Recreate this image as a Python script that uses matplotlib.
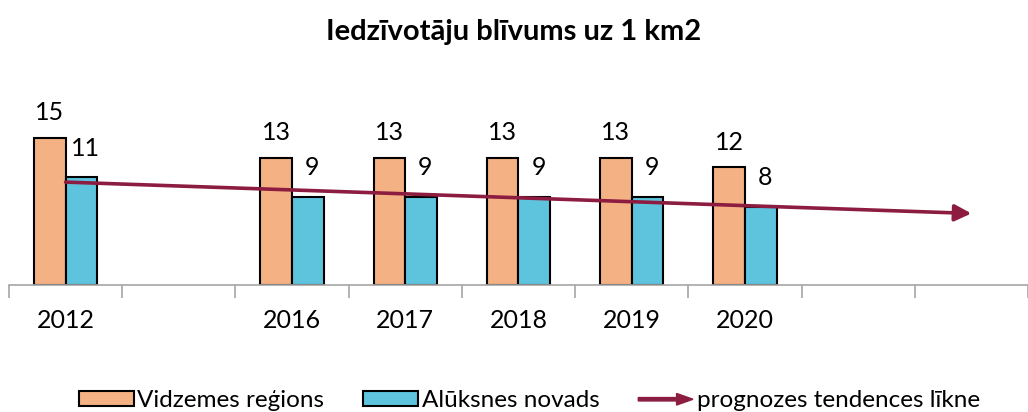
import numpy as np
import matplotlib
matplotlib.use("Agg")
import matplotlib.pyplot as plt
import matplotlib.patches as mpatches
from matplotlib.legend_handler import HandlerPatch

plt.rcParams['font.family'] = ['Lato', 'DejaVu Sans']

# gadi (tukšās vietas atstātas kā kategorijas bez datiem)
years = ["2012", "", "2016", "2017", "2018", "2019", "2020", "", ""]
vidzeme = [15, None, 13, 13, 13, 13, 12, None, None]
aluksne = [11, None, 9, 9, 9, 9, 8, None, None]

c_orange = "#F4B183"
c_blue = "#5EC4DD"
c_trend = "#8C1D40"

fig = plt.figure(figsize=(10.28, 4.12), dpi=100)
ax = fig.add_axes([9 / 1028, 127 / 412, 1019 / 1028, 196 / 412])

x = np.arange(len(years))
w = 0.28
for i, (v, a) in enumerate(zip(vidzeme, aluksne)):
    if v is None:
        continue
    ax.bar(i - w / 2, v, w, color=c_orange, edgecolor="black", linewidth=1.5, zorder=2)
    ax.bar(i + w / 2, a, w, color=c_blue, edgecolor="black", linewidth=1.5, zorder=2)
    ax.annotate(str(v), (i - w / 2, v), xytext=(0, 18), textcoords="offset points",
                ha="center", va="center", fontsize=18)
    ax.annotate(str(a), (i + w / 2, a), xytext=(3, 21), textcoords="offset points",
                ha="center", va="center", fontsize=18)

# lineārā tendence pēc Alūksnes novada datiem, prognoze līdz pēdējai kategorijai
xs = np.array([i for i, a in enumerate(aluksne) if a is not None])
ys = np.array([a for a in aluksne if a is not None])
k, b = np.polyfit(xs, ys, 1)
x0, x1 = 0, 8
ax.annotate("", xy=(x1, k * x1 + b), xytext=(x0, k * x0 + b),
            arrowprops=dict(arrowstyle="-|>,head_length=1.0,head_width=0.5",
                            color=c_trend, lw=2.6, shrinkA=0, shrinkB=0),
            zorder=3)

ax.set_xlim(-0.5, -0.5 + 1019 / 114)
ax.set_ylim(0, 20)
ax.set_xticks(np.arange(len(years) + 1) - 0.5)
ax.set_xticklabels([])
ax.set_xticks(x, minor=True)
ax.set_xticklabels(years, minor=True, fontsize=18)
ax.tick_params(axis="x", which="major", length=9, color="#A6A6A6", width=1.2)
ax.tick_params(axis="x", which="minor", length=0, pad=17)
ax.set_yticks([])
for s in ["top", "right", "left"]:
    ax.spines[s].set_visible(False)
ax.spines["bottom"].set_color("#A6A6A6")
ax.spines["bottom"].set_linewidth(1.2)

fig.suptitle("Iedzīvotāju blīvums uz 1 km2", fontsize=21, fontweight="bold", y=0.955)


def make_arrow(legend, orig_handle, xdescent, ydescent, width, height, fontsize):
    return mpatches.FancyArrow(0, height / 2, width, 0, width=height * 0.22,
                               head_width=height * 0.75, head_length=width * 0.3,
                               length_includes_head=True)


handles = [
    mpatches.Patch(facecolor=c_orange, edgecolor="black", linewidth=1.5),
    mpatches.Patch(facecolor=c_blue, edgecolor="black", linewidth=1.5),
    mpatches.FancyArrow(0, 0, 1, 0, color=c_trend),
]
labels = ["Vidzemes reģions", "Alūksnes novads", "prognozes tendences līkne"]
fig.legend(handles, labels, loc="center", bbox_to_anchor=(0.515, 0.028), ncol=3,
           frameon=False, fontsize=17.5, handlelength=2.25, handleheight=0.6,
           handletextpad=0.15, columnspacing=1.6,
           handler_map={mpatches.FancyArrow: HandlerPatch(patch_func=make_arrow)})

fig.savefig("out.png", dpi=100)
